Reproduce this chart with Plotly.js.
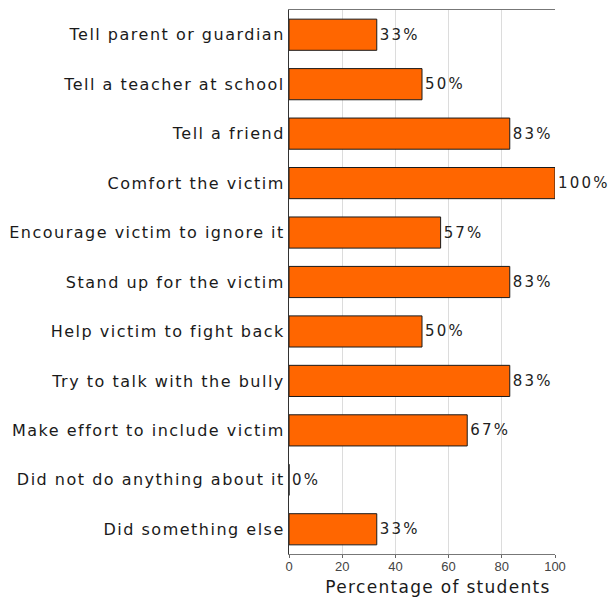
<!DOCTYPE html>
<html>
<head>
<meta charset="utf-8">
<script src="https://cdn.plot.ly/plotly-3.0.1.min.js"></script>
<style>
html,body{margin:0;padding:0;background:#fff;}
#chart{width:613px;height:597px;}
.ytick text{letter-spacing:1.5px;}
.bartext{letter-spacing:2.2px;}
.g-xtitle text{letter-spacing:1.3px;}
#chart .g-xtitle{transform:translateX(16px);}
</style>
</head>
<body>
<div id="chart"></div>
<script>
const categories = [
  "Tell parent or guardian",
  "Tell a teacher at school",
  "Tell a friend",
  "Comfort the victim",
  "Encourage victim to ignore it",
  "Stand up for the victim",
  "Help victim to fight back",
  "Try to talk with the bully",
  "Make effort to include victim",
  "Did not do anything about it",
  "Did something else"
];
const values = [33, 50, 83, 100, 57, 83, 50, 83, 67, 0, 33];
const tickVals = [0, 20, 40, 60, 80, 100];

const FONT = 'DejaVu Sans, Verdana, sans-serif';
const TICKFONT = 'Liberation Sans, Arial, sans-serif';

const trace = {
  type: 'bar',
  orientation: 'h',
  y: categories,
  x: values,
  marker: {color: '#ff6600', line: {color: '#1a1a1a', width: 1}},
  text: values.map(v => v + '%'),
  textposition: 'outside',
  textfont: {family: FONT, size: 15, color: '#222'},
  cliponaxis: false,
  hoverinfo: 'none'
};

const layout = {
  width: 613, height: 597,
  margin: {l: 289, r: 58, t: 10, b: 43},
  paper_bgcolor: '#fff', plot_bgcolor: '#fff',
  bargap: 0.37,
  showlegend: false,
  font: {family: FONT, color: '#222'},
  xaxis: {
    range: [0, 100],
    tickvals: tickVals,
    ticktext: tickVals.map(String),
    ticks: 'outside', ticklen: 3, tickcolor: '#666',
    ticklabelstandoff: -3,
    showgrid: true, gridcolor: '#dcdcdc', gridwidth: 1,
    zeroline: false,
    showline: true, linecolor: '#777', linewidth: 1, mirror: true,
    tickfont: {family: TICKFONT, size: 13, color: '#444'},
    title: {text: 'Percentage of students', font: {size: 17, color: '#1a1a1a'}, standoff: 8},
    fixedrange: true
  },
  yaxis: {
    autorange: 'reversed',
    categoryorder: 'array', categoryarray: categories,
    ticks: '', showgrid: false, zeroline: false,
    showline: true, linecolor: '#333', linewidth: 1,
    tickfont: {size: 16, color: '#1a1a1a'},
    fixedrange: true
  }
};

Plotly.newPlot('chart', [trace], layout, {displayModeBar: false, staticPlot: true});
</script>
</body>
</html>
